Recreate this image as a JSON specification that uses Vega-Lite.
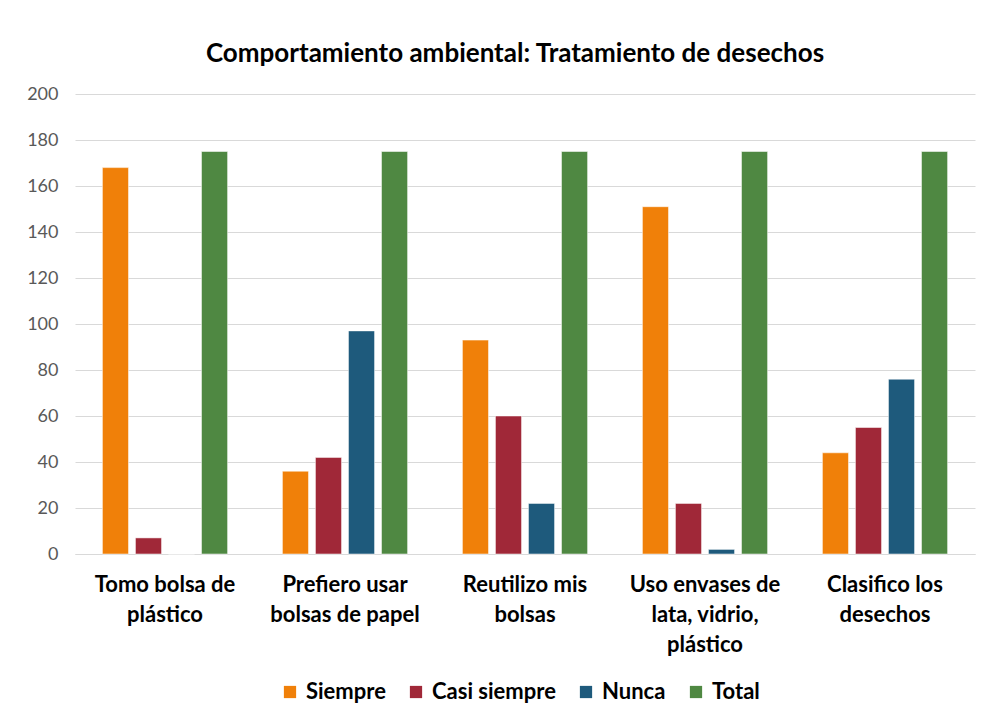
{
  "$schema": "https://vega.github.io/schema/vega-lite/v6.json",
  "width": 900,
  "height": 460,
  "autosize": "none",
  "padding": {"left": 75, "top": 94, "right": 30, "bottom": 171},
  "background": "white",
  "config": {
    "font": "Lato",
    "view": {"stroke": null}
  },
  "title": {
    "text": "Comportamiento ambiental: Tratamiento de desechos",
    "font": "Lato",
    "fontSize": 26,
    "fontWeight": "bold",
    "color": "#000000",
    "anchor": "middle",
    "dx": -10,
    "offset": 18
  },
  "data": {
    "values": [
      {"categoria": "Tomo bolsa de plástico", "serie": "Siempre", "valor": 168},
      {"categoria": "Tomo bolsa de plástico", "serie": "Casi siempre", "valor": 7},
      {"categoria": "Tomo bolsa de plástico", "serie": "Nunca", "valor": 0},
      {"categoria": "Tomo bolsa de plástico", "serie": "Total", "valor": 175},
      {"categoria": "Prefiero usar bolsas de papel", "serie": "Siempre", "valor": 36},
      {"categoria": "Prefiero usar bolsas de papel", "serie": "Casi siempre", "valor": 42},
      {"categoria": "Prefiero usar bolsas de papel", "serie": "Nunca", "valor": 97},
      {"categoria": "Prefiero usar bolsas de papel", "serie": "Total", "valor": 175},
      {"categoria": "Reutilizo mis bolsas", "serie": "Siempre", "valor": 93},
      {"categoria": "Reutilizo mis bolsas", "serie": "Casi siempre", "valor": 60},
      {"categoria": "Reutilizo mis bolsas", "serie": "Nunca", "valor": 22},
      {"categoria": "Reutilizo mis bolsas", "serie": "Total", "valor": 175},
      {"categoria": "Uso envases de lata, vidrio, plástico", "serie": "Siempre", "valor": 151},
      {"categoria": "Uso envases de lata, vidrio, plástico", "serie": "Casi siempre", "valor": 22},
      {"categoria": "Uso envases de lata, vidrio, plástico", "serie": "Nunca", "valor": 2},
      {"categoria": "Uso envases de lata, vidrio, plástico", "serie": "Total", "valor": 175},
      {"categoria": "Clasifico los desechos", "serie": "Siempre", "valor": 44},
      {"categoria": "Clasifico los desechos", "serie": "Casi siempre", "valor": 55},
      {"categoria": "Clasifico los desechos", "serie": "Nunca", "valor": 76},
      {"categoria": "Clasifico los desechos", "serie": "Total", "valor": 175}
    ]
  },
  "mark": {"type": "bar", "stroke": "white", "strokeOpacity": 0.5, "strokeWidth": 1},
  "encoding": {
    "x": {
      "field": "categoria",
      "type": "nominal",
      "sort": null,
      "scale": {"paddingInner": 0, "paddingOuter": 0},
      "axis": {
        "title": null,
        "labelAngle": 0,
        "labelFont": "Lato",
        "labelFontSize": 22,
        "labelFontWeight": "bold",
        "labelColor": "#000000",
        "labelBaseline": "top",
        "labelLineHeight": 30,
        "labelPadding": 20,
        "labelLimit": 220,
        "ticks": false,
        "domainColor": "#d9d9d9",
        "labelExpr": "datum.value == 'Tomo bolsa de plástico' ? ['Tomo bolsa de', 'plástico'] : datum.value == 'Prefiero usar bolsas de papel' ? ['Prefiero usar', 'bolsas de papel'] : datum.value == 'Reutilizo mis bolsas' ? ['Reutilizo mis', 'bolsas'] : datum.value == 'Uso envases de lata, vidrio, plástico' ? ['Uso envases de', 'lata, vidrio,', 'plástico'] : ['Clasifico los', 'desechos']"
      }
    },
    "xOffset": {
      "field": "serie",
      "type": "nominal",
      "sort": ["Siempre", "Casi siempre", "Nunca", "Total"],
      "scale": {"paddingInner": 0.21, "paddingOuter": 0.83}
    },
    "y": {
      "field": "valor",
      "type": "quantitative",
      "scale": {"domain": [0, 200]},
      "axis": {
        "title": null,
        "values": [0, 20, 40, 60, 80, 100, 120, 140, 160, 180, 200],
        "labelFont": "Lato",
        "labelFontSize": 18,
        "labelColor": "#595959",
        "labelPadding": 17,
        "ticks": false,
        "domain": false,
        "gridColor": "#d9d9d9",
        "gridWidth": 1
      }
    },
    "color": {
      "field": "serie",
      "type": "nominal",
      "sort": ["Siempre", "Casi siempre", "Nunca", "Total"],
      "scale": {
        "domain": ["Siempre", "Casi siempre", "Nunca", "Total"],
        "range": ["#F08009", "#A02838", "#1E5A7C", "#4F8842"]
      },
      "legend": {
        "title": null,
        "orient": "none",
        "legendX": 204,
        "legendY": 587,
        "direction": "horizontal",
        "symbolType": "square",
        "symbolSize": 150,
        "symbolStrokeWidth": 0,
        "labelFont": "Lato",
        "labelFontSize": 22,
        "labelFontWeight": "bold",
        "labelColor": "#000000",
        "columnPadding": 19,
        "labelOffset": 5,
        "labelLimit": 200
      }
    }
  }
}
